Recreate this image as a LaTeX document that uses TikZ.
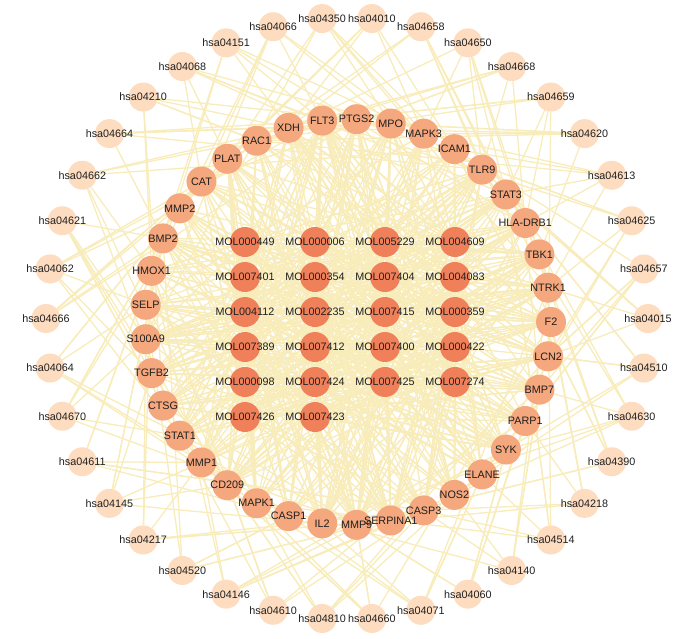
\documentclass[tikz,border=0pt]{standalone}
\usepackage{fontspec}
\setmainfont{Liberation Sans}
\usepackage{tikz}
\usetikzlibrary{backgrounds}
\definecolor{pathfill}{RGB}{253,220,192}
\definecolor{genefill}{RGB}{245,167,126}
\definecolor{molfill}{RGB}{239,128,90}
\definecolor{edgecol}{RGB}{248,236,186}
\tikzset{every node/.append style={align=center, inner sep=0pt}}
\def\pathlist{hsa04350,hsa04010,hsa04658,hsa04650,hsa04668,hsa04659,hsa04620,hsa04613,hsa04625,hsa04657,hsa04015,hsa04510,hsa04630,hsa04390,hsa04218,hsa04514,hsa04140,hsa04060,hsa04071,hsa04660,hsa04810,hsa04610,hsa04146,hsa04520,hsa04217,hsa04145,hsa04611,hsa04670,hsa04064,hsa04666,hsa04062,hsa04621,hsa04662,hsa04664,hsa04210,hsa04068,hsa04151,hsa04066}
\def\genelist{FLT3,PTGS2,MPO,MAPK3,ICAM1,TLR9,STAT3,HLA-DRB1,TBK1,NTRK1,F2,LCN2,BMP7,PARP1,SYK,ELANE,NOS2,CASP3,SERPINA1,MMP9,IL2,CASP1,MAPK1,CD209,MMP1,STAT1,CTSG,TGFB2,S100A9,SELP,HMOX1,BMP2,MMP2,CAT,PLAT,RAC1,XDH}
\def\mollist{MOL000449/0/0,MOL000006/1/0,MOL005229/2/0,MOL004609/3/0,MOL007401/0/1,MOL000354/1/1,MOL007404/2/1,MOL004083/3/1,MOL004112/0/2,MOL002235/1/2,MOL007415/2/2,MOL000359/3/2,MOL007389/0/3,MOL007412/1/3,MOL007400/2/3,MOL000422/3/3,MOL000098/0/4,MOL007424/1/4,MOL007425/2/4,MOL007274/3/4,MOL007426/0/5,MOL007423/1/5}

\begin{document}
\begin{tikzpicture}[x=1pt, y=-1pt, font=\fontsize{10.8}{12}\selectfont,
    pw/.style={circle, fill=pathfill, minimum size=29pt},
    gn/.style={circle, fill=genefill, minimum size=30pt},
    mol/.style={circle, fill=molfill, minimum size=30pt},
    txt/.style={text=black!88},
    ln/.style={draw=edgecol, line width=1.3pt}]
\useasboundingbox (0,0) rectangle (700,638);
\foreach \name [count=\i] in \pathlist
  \node[pw] (p\i) at ({347+301*cos(94.74-(\i-1)*9.474)}, {318.5-301*sin(94.74-(\i-1)*9.474)}) {};
\foreach \name [count=\i] in \genelist
  \node[gn] (g\i) at ({348+203*cos(97.3-(\i-1)*9.73)}, {322-203*sin(97.3-(\i-1)*9.73)}) {};
\foreach \name/\c/\r [count=\i] in \mollist
  \node[mol] (m\i) at ({245+70*\c}, {242+35*\r}) {};
\begin{scope}[on background layer]
\pgfmathsetseed{11}
\foreach \i in {1,...,38}
  \foreach \r in {1,...,6}{
    \pgfmathtruncatemacro{\k}{mod(\i+int(rnd*19)-9+36,37)+1}
    \draw[ln] (p\i) -- (g\k);
  }
\foreach \i in {1,...,22}
  \foreach \r in {1,...,38}{
    \pgfmathtruncatemacro{\k}{int(rnd*37)+1}
    \draw[ln] (m\i) -- (g\k);
  }
\end{scope}
\foreach \name [count=\i] in \pathlist
  \node[txt] at (p\i) {\name};
\foreach \name [count=\i] in \genelist
  \node[txt] at (g\i) {\name};
\foreach \name/\c/\r [count=\i] in \mollist
  \node[txt] at (m\i) {\name};
\end{tikzpicture}
\end{document}
